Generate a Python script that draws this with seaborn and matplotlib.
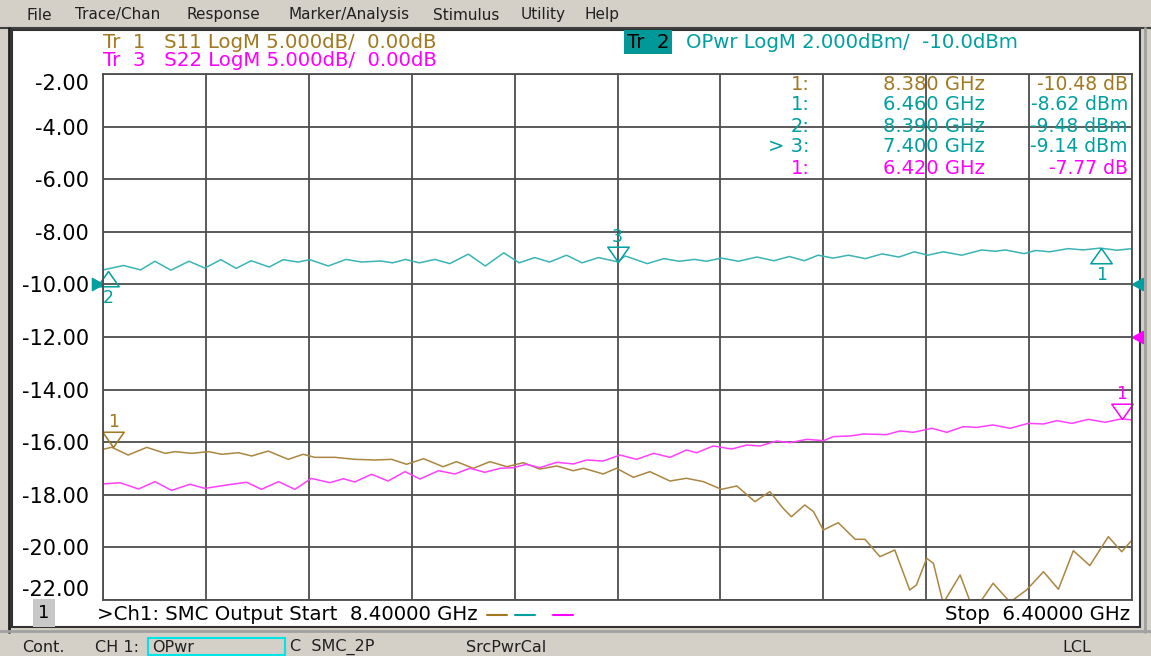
import numpy as np
import pandas as pd
import matplotlib
matplotlib.use('Agg')
import matplotlib.pyplot as plt
from matplotlib.lines import Line2D
from matplotlib.patches import Rectangle
import seaborn as sns

# Sweep settings (the analyzer sweeps from 8.4 GHz down to 6.4 GHz)
start_ghz = 8.4
stop_ghz = 6.4
y_ticks = [-22, -20, -18, -16, -14, -12, -10, -8, -6, -4, -2]

# Tr 2: OPwr (dBm), 2 dBm/div, ref -10 dBm
opwr_freq = [8.400, 8.360, 8.327, 8.299, 8.268, 8.233, 8.202, 8.171, 8.141, 8.112, 8.077, 8.050,
             8.021, 7.998, 7.962, 7.928, 7.897, 7.860, 7.837, 7.812, 7.785, 7.755, 7.726, 7.690,
             7.657, 7.621, 7.591, 7.561, 7.532, 7.499, 7.469, 7.437, 7.400, 7.385, 7.342, 7.310,
             7.280, 7.250, 7.227, 7.198, 7.165, 7.129, 7.096, 7.066, 7.037, 7.010, 6.981, 6.951,
             6.918, 6.886, 6.853, 6.823, 6.797, 6.767, 6.731, 6.692, 6.666, 6.646, 6.610, 6.587,
             6.560, 6.524, 6.495, 6.462, 6.429, 6.400]
opwr_dbm = [-9.45, -9.28, -9.45, -9.12, -9.46, -9.12, -9.38, -9.06, -9.39, -9.10, -9.34, -9.06,
            -9.15, -9.06, -9.30, -9.05, -9.15, -9.11, -9.18, -9.05, -9.18, -9.05, -9.21, -8.85,
            -9.30, -8.80, -9.18, -8.98, -9.15, -8.89, -9.18, -8.98, -9.14, -8.92, -9.21, -9.02,
            -9.12, -9.05, -9.12, -9.00, -9.12, -8.96, -9.10, -8.94, -9.10, -8.89, -9.00, -8.89,
            -9.02, -8.84, -8.96, -8.76, -8.89, -8.76, -8.89, -8.69, -8.74, -8.69, -8.83, -8.71,
            -8.76, -8.64, -8.69, -8.62, -8.70, -8.64]

# Tr 1: S11 (dB), 5 dB/div, ref 0 dB
s11_freq = [8.400, 8.383, 8.351, 8.315, 8.279, 8.260, 8.228, 8.195, 8.169, 8.137, 8.111, 8.079,
            8.040, 8.011, 7.988, 7.949, 7.910, 7.871, 7.839, 7.810, 7.777, 7.739, 7.713, 7.680,
            7.648, 7.615, 7.583, 7.551, 7.518, 7.486, 7.466, 7.428, 7.402, 7.369, 7.337, 7.298,
            7.266, 7.233, 7.198, 7.168, 7.133, 7.104, 7.078, 7.062, 7.036, 7.019, 7.000, 6.971,
            6.938, 6.919, 6.890, 6.861, 6.832, 6.819, 6.799, 6.786, 6.767, 6.734, 6.712, 6.695,
            6.670, 6.637, 6.605, 6.572, 6.543, 6.514, 6.482, 6.446, 6.420, 6.400]
s11_db = [-10.68, -10.48, -11.22, -10.49, -11.06, -10.90, -11.06, -10.90, -11.15, -11.00, -11.31, -10.84,
          -11.63, -11.15, -11.44, -11.44, -11.63, -11.69, -11.63, -12.10, -11.57, -12.33, -11.85, -12.48,
          -11.85, -12.33, -11.95, -12.55, -12.26, -12.71, -12.48, -13.02, -12.48, -13.34, -12.80, -13.69,
          -13.43, -13.75, -14.48, -14.16, -15.65, -14.70, -16.29, -17.08, -15.97, -16.60, -18.35, -17.65,
          -19.23, -19.23, -20.88, -20.25, -24.05, -23.57, -21.04, -21.51, -25.30, -22.62, -25.50, -25.20,
          -23.41, -25.20, -24.05, -22.31, -23.98, -20.31, -21.73, -18.98, -20.41, -19.30]

# Tr 3: S22 (dB), 5 dB/div, ref 0 dB
s22_freq = [8.400, 8.367, 8.331, 8.299, 8.267, 8.231, 8.202, 8.160, 8.121, 8.092, 8.059, 8.027,
            7.995, 7.959, 7.933, 7.911, 7.878, 7.846, 7.813, 7.784, 7.748, 7.716, 7.687, 7.658,
            7.628, 7.602, 7.577, 7.551, 7.518, 7.486, 7.460, 7.428, 7.395, 7.363, 7.330, 7.298,
            7.266, 7.246, 7.214, 7.178, 7.149, 7.123, 7.091, 7.065, 7.032, 6.999, 6.981, 6.948,
            6.922, 6.877, 6.851, 6.825, 6.789, 6.760, 6.728, 6.702, 6.670, 6.637, 6.602, 6.572,
            6.546, 6.517, 6.485, 6.452, 6.420, 6.400]
s22_db = [-13.97, -13.85, -14.45, -13.75, -14.58, -14.00, -14.39, -14.07, -13.81, -14.48, -13.75, -14.48,
          -13.44, -13.85, -13.47, -13.78, -13.05, -13.69, -12.80, -13.50, -12.71, -13.02, -12.48, -12.86,
          -12.48, -12.42, -12.10, -12.42, -11.91, -12.07, -11.69, -11.79, -11.22, -11.63, -11.06, -11.44,
          -10.74, -11.00, -10.36, -10.65, -10.27, -10.36, -9.89, -10.04, -9.73, -9.85, -9.47, -9.41,
          -9.22, -9.28, -8.93, -9.06, -8.68, -9.06, -8.52, -8.59, -8.36, -8.68, -8.21, -8.27,
          -7.95, -8.21, -7.83, -8.11, -7.77, -7.89]

# Marker table
mk_trace = ['Tr1', 'Tr2', 'Tr2', 'Tr2', 'Tr3']
mk_name = ['1:', '1:', '2:', '> 3:', '1:']
mk_label = ['1', '1', '2', '3', '1']
mk_freq = [8.380, 6.460, 8.390, 7.400, 6.420]
mk_value = [-10.48, -8.62, -9.48, -9.14, -7.77]
mk_unit = ['dB', 'dBm', 'dBm', 'dBm', 'dB']

BROWN = '#a27820'
BROWN_LINE = '#ab8640'
TEAL = '#00a0a0'
TEAL_LINE = '#3ab4b4'
MAGENTA = '#ff00ff'
GRID = '#4d4d4d'
PANEL = '#d4d0c8'


# S11/S22 are drawn on the 5 dB/div scale with 0 dB at the -12 line of the OPwr scale
def to_screen(trace, value):
    if trace == 'Tr2':
        return value
    return -12 + np.asarray(value) * 2.0 / 5.0


trace_color = {'Tr1': BROWN, 'Tr2': TEAL, 'Tr3': MAGENTA}

df_opwr = pd.DataFrame({'freq': opwr_freq, 'y': to_screen('Tr2', np.array(opwr_dbm))})
df_s11 = pd.DataFrame({'freq': s11_freq, 'y': to_screen('Tr1', s11_db)})
df_s22 = pd.DataFrame({'freq': s22_freq, 'y': to_screen('Tr3', s22_db)})

sns.set_theme(style='white')
plt.rcParams['font.family'] = ['DejaVu Sans']

W, H = 1151, 656
fig = plt.figure(figsize=(W / 100, H / 100), dpi=100, facecolor=PANEL)


def fx(px):
    return px / W


def fy(py):
    return 1 - py / H


# window frame
fig.add_artist(Rectangle((fx(12), fy(627)), fx(1140) - fx(12), fy(30) - fy(627),
                         transform=fig.transFigure, facecolor='white', edgecolor='#333333', lw=1.5, zorder=0))
fig.add_artist(Line2D([fx(0), fx(1151)], [fy(28), fy(28)], color='#404040', lw=1.5))
fig.add_artist(Line2D([fx(9), fx(9)], [fy(28), fy(632)], color='#202020', lw=2))
fig.add_artist(Line2D([fx(1145), fx(1145)], [fy(28), fy(632)], color='#a0a0a0', lw=2))
fig.add_artist(Line2D([fx(0), fx(1151)], [fy(631), fy(631)], color='#a0a0a0', lw=2))

# menu bar
menu = ['File', 'Trace/Chan', 'Response', 'Marker/Analysis', 'Stimulus', 'Utility', 'Help']
menu_x = [27, 75, 187, 289, 433, 521, 584]
for m, x in zip(menu, menu_x):
    fig.text(fx(x), fy(15), m, fontsize=11, color='#202020', va='center', ha='left')

ax = fig.add_axes([fx(103), fy(600), fx(1132) - fx(103), fy(74) - fy(600)])
ax.set_facecolor('white')

sns.lineplot(data=df_opwr, x='freq', y='y', ax=ax, color=TEAL_LINE, lw=1.1, sort=False, estimator=None)
sns.lineplot(data=df_s11, x='freq', y='y', ax=ax, color=BROWN_LINE, lw=1.1, sort=False, estimator=None)
sns.lineplot(data=df_s22, x='freq', y='y', ax=ax, color='#ff40ff', lw=1.1, sort=False, estimator=None)

ax.set_xlim(start_ghz, stop_ghz)
ax.set_ylim(-22, -2)
ax.set_xticks(np.linspace(stop_ghz, start_ghz, 11))
ax.set_xticklabels([])
ax.set_yticks(y_ticks)
ax.set_yticklabels([f'{t:.2f}' for t in y_ticks], fontsize=15, color='black')
ax.tick_params(axis='y', length=0, pad=10)
ax.tick_params(axis='x', length=0)
labels = ax.get_yticklabels()
labels[0].set_va('bottom')
labels[-1].set_va('top')
ax.grid(True, color=GRID, lw=1.3)
for s in ax.spines.values():
    s.set_color(GRID)
    s.set_linewidth(1.3)
ax.set_xlabel('')
ax.set_ylabel('')

# markers: open triangles with the tip on the trace
tri_down = [(0, 0), (-0.7, 1), (0.7, 1), (0, 0)]
tri_up = [(0, 0), (-0.7, -1), (0.7, -1), (0, 0)]
for tr, lab, f, v in zip(mk_trace, mk_label, mk_freq, mk_value):
    y = to_screen(tr, v)
    col = trace_color[tr]
    up = tr == 'Tr2' and lab != '3'
    ax.plot([f], [y], marker=tri_up if up else tri_down, ms=22, mfc='none', mec=col, mew=1.1,
            clip_on=False, ls='none')
    ax.annotate(lab, (f, y), xytext=(0, -19.5 if up else 18), textcoords='offset points',
                ha='center', va='center', color=col, fontsize=12.5, annotation_clip=False)

# reference position arrows
tri_right = [(0, 0), (-1, 0.55), (-1, -0.55), (0, 0)]
tri_left = [(0, 0), (1, 0.55), (1, -0.55), (0, 0)]
ax.plot([start_ghz], [-10], marker=tri_right, ms=16, color=TEAL, clip_on=False, ls='none')
ax.plot([stop_ghz], [-10], marker=tri_left, ms=16, color=TEAL, clip_on=False, ls='none')
ax.plot([stop_ghz], [-12], marker=tri_left, ms=16, color=MAGENTA, clip_on=False, ls='none')

# trace headers
fig.text(fx(103), fy(42), 'Tr  1   S11 LogM 5.000dB/  0.00dB', color=BROWN, fontsize=14.2, va='center')
fig.text(fx(103), fy(61), 'Tr  3   S22 LogM 5.000dB/  0.00dB', color=MAGENTA, fontsize=14.2, va='center')
fig.text(fx(627), fy(42), 'Tr  2', color='black', fontsize=14.2, va='center',
         bbox=dict(boxstyle='square,pad=0.15', facecolor='#009898', edgecolor='none'))
fig.text(fx(686), fy(42), 'OPwr LogM 2.000dBm/  -10.0dBm', color=TEAL, fontsize=14.2, va='center')

# marker readout table
for i, (tr, nm, f, v, u) in enumerate(zip(mk_trace, mk_name, mk_freq, mk_value, mk_unit)):
    yy = fy(84 + 21 * i)
    col = trace_color[tr]
    fig.text(fx(810), yy, nm, color=col, fontsize=14, ha='right', va='center')
    fig.text(fx(985), yy, f'{f:.3f} GHz', color=col, fontsize=14, ha='right', va='center')
    fig.text(fx(1128), yy, f'{v:.2f} {u}', color=col, fontsize=13.5, ha='right', va='center')

# channel line
fig.text(fx(44), fy(613), '1', fontsize=13, ha='center', va='center', color='black',
         bbox=dict(boxstyle='square,pad=0.3', facecolor='#c8c8c8', edgecolor='none'))
fig.text(fx(97), fy(615), f'>Ch1: SMC Output Start  {start_ghz:.5f} GHz', fontsize=14.2, va='center', color='black')
fig.text(fx(1130), fy(615), f'Stop  {stop_ghz:.5f} GHz', fontsize=14.2, va='center', ha='right', color='black')
for (x0, x1), c in zip([(487, 507), (515, 535), (553, 573)], [BROWN, TEAL, MAGENTA]):
    fig.add_artist(Line2D([fx(x0), fx(x1)], [fy(615), fy(615)], color=c, lw=1.5))

# status bar
status = ['Cont.', 'CH 1:', 'OPwr', 'C  SMC_2P', 'SrcPwrCal', 'LCL']
status_x = [22, 95, 152, 290, 466, 1062]
for s, x in zip(status, status_x):
    fig.text(fx(x), fy(647), s, fontsize=11.5, color='#202020', va='center')
fig.add_artist(Rectangle((fx(148), fy(655)), fx(285) - fx(148), fy(638) - fy(655),
                         transform=fig.transFigure, facecolor='none', edgecolor='#00e5e5', lw=1.5))

fig.savefig('out.png', dpi=100, facecolor=fig.get_facecolor())
